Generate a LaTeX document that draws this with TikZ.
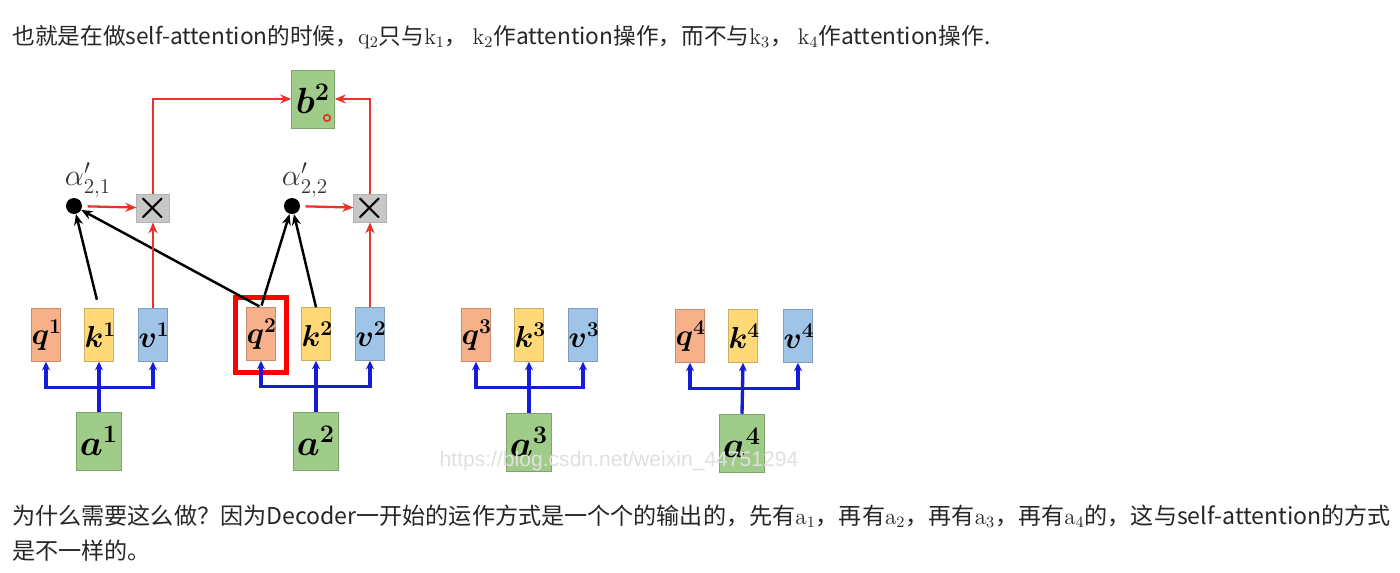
\documentclass[tikz,border=0pt]{standalone}
\usepackage{fontspec}
\usepackage{amsmath,amssymb,bm}
\usepackage{xcolor}
\usepackage{tikz}
\usetikzlibrary{arrows.meta}
\newfontfamily\cjk{Noto Sans CJK SC}
\newfontfamily\wmfont{Liberation Sans}
\definecolor{qfill}{RGB}{246,176,138}
\definecolor{kfill}{RGB}{255,217,120}
\definecolor{vfill}{RGB}{160,196,232}
\definecolor{afill}{RGB}{160,204,138}
\definecolor{arred}{RGB}{232,52,40}
\definecolor{arblue}{RGB}{20,28,214}
\tikzset{
  vec/.style={draw=#1!80!black,fill=#1,line width=0.3pt,inner sep=0pt,
              text width=0.58cm,minimum height=1.06cm,align=center,
              font=\fontsize{18}{18}\selectfont},
  inp/.style={draw=afill!80!black,fill=afill,line width=0.3pt,inner sep=0pt,
              text width=0.9cm,minimum height=1.16cm,align=center,
              font=\fontsize{20}{20}\selectfont},
  mul/.style={draw=black!30,fill=black!22,minimum size=0.54cm,inner sep=0pt,
              font=\fontsize{22}{22}\selectfont},
  dotn/.style={circle,fill=black,minimum size=0.32cm,inner sep=0pt},
  hl/.style={draw=red,line width=2.8pt,minimum width=1.02cm,minimum height=1.5cm},
  alab/.style={font=\fontsize{17}{17}\selectfont,text=black!80,inner sep=1pt},
  redar/.style={-{Stealth[length=2.2mm,width=1.8mm]},draw=arred,line width=1.3pt},
  blkar/.style={-{Stealth[length=2.2mm,width=1.8mm]},line width=1.4pt},
  bluear/.style={-{Stealth[length=1.7mm,width=1.6mm]},draw=arblue,line width=1.9pt},
  para/.style={anchor=base west,inner sep=0pt,font=\cjk\fontsize{12.9}{15}\selectfont,text=black!85},
  wm/.style={font=\wmfont\fontsize{12}{12}\selectfont,text=black!12,inner sep=0pt}
}

\begin{document}
\begin{tikzpicture}[x=0.02cm,y=-0.02cm]
  \useasboundingbox[fill=white] (0,0) rectangle (1400,572);

  \node[para] (top) at (12,44)
    {也就是在做self-attention的时候，$\mathrm{q}_2$只与$\mathrm{k}_1$，
     $\mathrm{k}_2$作attention操作，而不与$\mathrm{k}_3$，
     $\mathrm{k}_4$作attention操作.};

  % output
  \node[inp,text width=0.86cm] (b2) at (313,99) {$\bm{b^2}$\\[-2pt]};
  \node[circle,draw=arred,line width=1pt,minimum size=0.13cm,inner sep=0pt] (mark) at (327,118) {};

  % attention weights and products
  \node[dotn] (d1) at (74,206) {};
  \node[alab] (l1) at (88,180) {$\alpha'_{2,1}$};
  \node[dotn] (d2) at (292,206) {};
  \node[alab] (l2) at (305,180) {$\alpha'_{2,2}$};
  \node[mul] (m1) at (153,208) {$\bm{\times}$};
  \node[mul] (m2) at (370,208) {$\bm{\times}$};

  % q k v
  \node[vec=qfill] (q1) at (46,335) {$\bm{q^1}$};
  \node[vec=kfill] (k1) at (99,335) {$\bm{k^1}$};
  \node[vec=vfill] (v1) at (153,335) {$\bm{v^1}$};
  \node[vec=qfill] (q2) at (261,334) {$\bm{q^2}$};
  \node[vec=kfill] (k2) at (316,334) {$\bm{k^2}$};
  \node[vec=vfill] (v2) at (370,334) {$\bm{v^2}$};
  \node[vec=qfill] (q3) at (476,335) {$\bm{q^3}$};
  \node[vec=kfill] (k3) at (529,335) {$\bm{k^3}$};
  \node[vec=vfill] (v3) at (583,335) {$\bm{v^3}$};
  \node[vec=qfill] (q4) at (690,336) {$\bm{q^4}$};
  \node[vec=kfill] (k4) at (743,336) {$\bm{k^4}$};
  \node[vec=vfill] (v4) at (798,336) {$\bm{v^4}$};
  \node[hl] (sel) at (261,335) {};

  % inputs
  \node[inp] (a1) at (99,441) {$\bm{a^1}$};
  \node[inp] (a2) at (316,441) {$\bm{a^2}$};
  \node[inp] (a3) at (529,442) {$\bm{a^3}$};
  \node[inp] (a4) at (742,443) {$\bm{a^4}$};

  % blue: input to q k v
  \foreach \i in {1,2,3,4}{
    \draw[bluear,{Stealth[length=1.7mm,width=1.6mm]}-{Stealth[length=1.7mm,width=1.6mm]}]
      (q\i.south) -- ++(0,26) -| (v\i.south);
    \draw[bluear] (a\i.north) -- (k\i.south);
  }

  % black: q2 with k1, k2
  \draw[blkar,shorten <=5pt] (k1.north) -- (d1);
  \draw[blkar,shorten <=1pt] (q2.north) -- (d1);
  \draw[blkar,shorten <=1pt] (q2.north) -- (d2);
  \draw[blkar] (k2.north) -- (d2);

  % red: weighted sum
  \draw[redar] (v1.north) -- (m1.south);
  \draw[redar] (v2.north) -- (m2.south);
  \draw[redar,shorten <=3pt] (d1) -- (m1);
  \draw[redar,shorten <=3pt] (d2) -- (m2);
  \draw[redar] (m1.north) |- (b2.west);
  \draw[redar] (m2.north) |- (b2.east);

  \node[wm] (wmark) at (619,461) {https://blog.csdn.net/weixin\_44751294};

  \node[para,font=\cjk\fontsize{13.15}{15}\selectfont] (bot1) at (12,524)
    {为什么需要这么做？因为Decoder一开始的运作方式是一个个的输出的，先有$\mathrm{a}_1$，再有$\mathrm{a}_2$，再有$\mathrm{a}_3$，再有$\mathrm{a}_4$的，这与self-attention的方式};
  \node[para,font=\cjk\fontsize{13.15}{15}\selectfont] (bot2) at (12,559) {是不一样的。};
\end{tikzpicture}
\end{document}
